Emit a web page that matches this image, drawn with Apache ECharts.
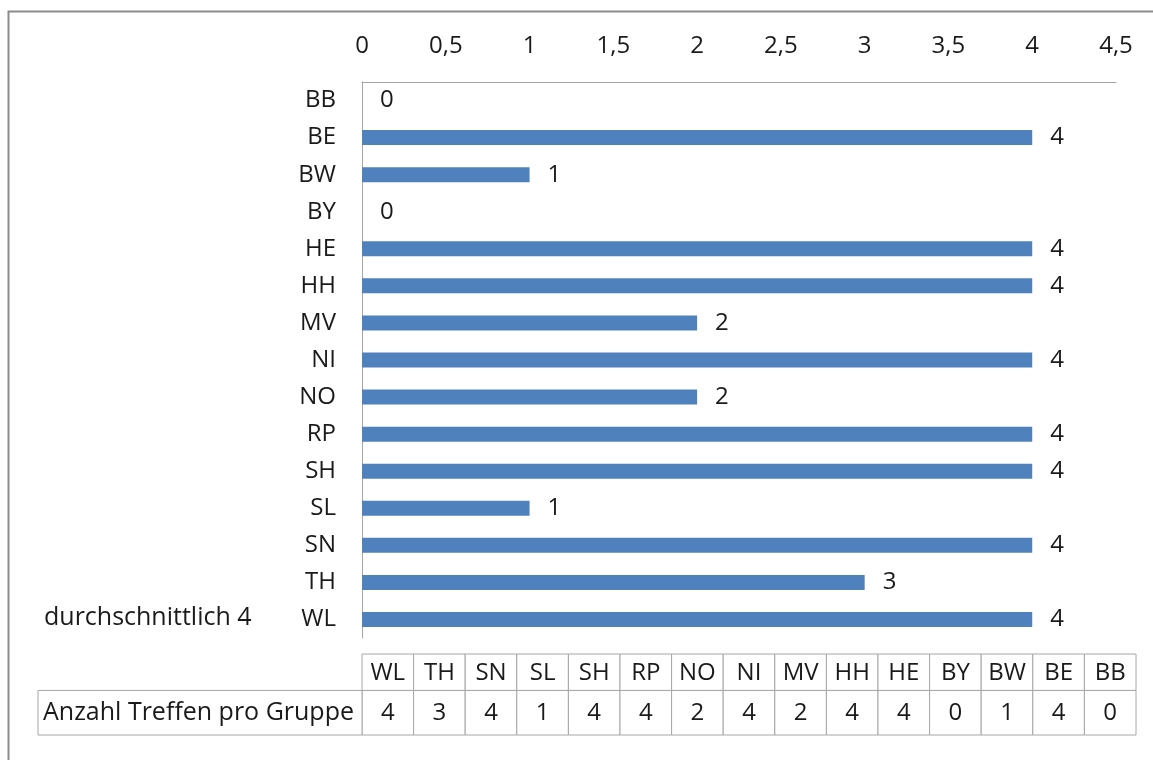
<!DOCTYPE html>
<html>
<head>
<meta charset="utf-8">
<script src="https://cdn.jsdelivr.net/npm/echarts@6/dist/echarts.min.js"></script>
<style>
  html, body { margin: 0; padding: 0; background: #fff; }
  #chart { width: 1153px; height: 760px; }
</style>
</head>
<body>
<div id="chart"></div>
<script>
// data
const categories = ['BB', 'BE', 'BW', 'BY', 'HE', 'HH', 'MV', 'NI', 'NO', 'RP', 'SH', 'SL', 'SN', 'TH', 'WL'];
const meetings = [0, 4, 1, 0, 4, 4, 2, 4, 2, 4, 4, 1, 4, 3, 4];
const tableCategories = categories.slice().reverse();
const tableValues = meetings.slice().reverse();
const rowLabel = 'Anzahl Treffen pro Gruppe';
const noteText = 'durchschnittlich 4';

const FONT = '"Open Sans", Lato, sans-serif';
const FS = 24;
const FS_BIG = 25;
const TXT = '#1a1a1a';
const BORDER = '#a6a6a6';

const chart = echarts.init(document.getElementById('chart'));

function renderCell(params, api) {
  const i = api.value(0);
  const top = api.coord([i, 2]);
  const mid = api.coord([i, 1.1]);
  const bot = api.coord([i, 0]);
  const w = api.size([1, 0])[0];
  const x = top[0] - w / 2;
  const children = [
    { type: 'rect', shape: { x: x, y: top[1], width: w, height: mid[1] - top[1] },
      style: { fill: '#fff', stroke: BORDER, lineWidth: 1 } },
    { type: 'rect', shape: { x: x, y: mid[1], width: w, height: bot[1] - mid[1] },
      style: { fill: '#fff', stroke: BORDER, lineWidth: 1 } },
    { type: 'text', style: { text: tableCategories[i], x: top[0], y: (top[1] + mid[1]) / 2 + 1,
      align: 'center', verticalAlign: 'middle', fontSize: FS, fontFamily: FONT, fill: TXT } },
    { type: 'text', style: { text: String(api.value(1)), x: top[0], y: (mid[1] + bot[1]) / 2,
      align: 'center', verticalAlign: 'middle', fontSize: FS, fontFamily: FONT, fill: TXT } }
  ];
  if (params.dataIndex === 0) {
    const left = 38;
    children.push(
      { type: 'rect', shape: { x: left, y: mid[1], width: x - left, height: bot[1] - mid[1] },
        style: { fill: '#fff', stroke: BORDER, lineWidth: 1 } },
      { type: 'text', style: { text: rowLabel, x: left + 5, y: (mid[1] + bot[1]) / 2,
        align: 'left', verticalAlign: 'middle', fontSize: FS_BIG, fontFamily: FONT, fill: TXT } }
    );
  }
  return { type: 'group', children: children };
}

const option = {
  animation: false,
  backgroundColor: '#fff',
  textStyle: { fontFamily: FONT },
  graphic: [
    { type: 'rect', left: 6, top: 9, shape: { width: 1200, height: 800 },
      style: { fill: 'none', stroke: '#8c8c8c', lineWidth: 2 }, z: 100 },
    { type: 'text', left: 44, top: 605,
      style: { text: noteText, fontSize: FS_BIG, fontFamily: FONT, fill: TXT } }
  ],
  grid: [
    { left: 362, top: 82, width: 754, height: 556 },
    { left: 362, top: 654, width: 774, height: 81 }
  ],
  xAxis: [
    {
      gridIndex: 0, type: 'value', position: 'top', min: 0, max: 4.5, interval: 0.5,
      axisLine: { show: true, lineStyle: { color: BORDER } },
      axisTick: { show: false },
      splitLine: { show: false },
      axisLabel: { margin: 24, fontSize: FS, fontFamily: FONT, color: TXT,
        formatter: v => String(v).replace('.', ',') }
    },
    { gridIndex: 1, type: 'category', data: tableCategories, show: false }
  ],
  yAxis: [
    {
      gridIndex: 0, type: 'category', data: categories, inverse: true,
      axisLine: { show: true, lineStyle: { color: BORDER } },
      axisTick: { show: false },
      axisLabel: { margin: 26, fontSize: FS, fontFamily: FONT, color: TXT }
    },
    { gridIndex: 1, type: 'value', min: 0, max: 2, show: false }
  ],
  series: [
    {
      type: 'bar', xAxisIndex: 0, yAxisIndex: 0,
      data: meetings, barWidth: 15,
      itemStyle: { color: '#4f81bd' },
      label: { show: true, position: 'right', distance: 18,
        fontSize: FS, fontFamily: FONT, color: TXT }
    },
    {
      type: 'custom', xAxisIndex: 1, yAxisIndex: 1,
      renderItem: renderCell,
      data: tableValues.map((v, i) => [i, v])
    }
  ]
};

chart.setOption(option);
</script>
</body>
</html>
